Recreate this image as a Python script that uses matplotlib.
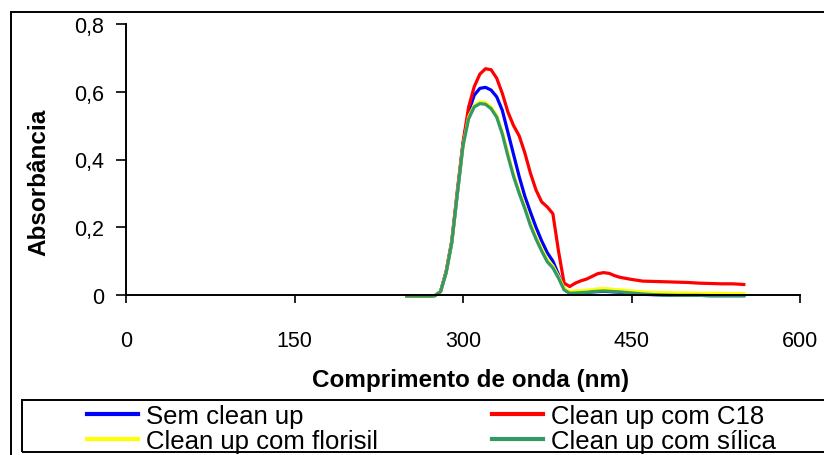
import matplotlib

matplotlib.use("Agg")
import matplotlib.pyplot as plt
from matplotlib.patches import Rectangle
from matplotlib.ticker import FuncFormatter

plt.rcParams["font.family"] = ["Liberation Sans", "DejaVu Sans"]

# wavelength grid (nm) and absorbance
wavelength = [250, 260, 270, 275, 280, 285, 290, 295, 300, 305, 310, 315, 320, 325,
              330, 335, 340, 345, 350, 355, 360, 365, 370, 375, 380, 385, 390, 395,
              400, 405, 410, 415, 420, 425, 430, 435, 440, 450, 460, 470, 480, 490,
              500, 510, 520, 530, 540, 550]

sem_clean_up = [-0.003, -0.003, -0.003, -0.002, 0.010, 0.068, 0.155, 0.300, 0.445, 0.540,
                0.590, 0.610, 0.613, 0.605, 0.585, 0.545, 0.480, 0.415, 0.350, 0.292,
                0.245, 0.200, 0.160, 0.125, 0.100, 0.060, 0.018, 0.005, 0.005, 0.006,
                0.008, 0.009, 0.010, 0.011, 0.010, 0.009, 0.008, 0.005, 0.002, 0.001,
                0.000, -0.001, -0.001, -0.001, -0.002, -0.002, -0.002, -0.002]

c18 = [-0.003, -0.003, -0.003, -0.002, 0.010, 0.070, 0.160, 0.310, 0.450, 0.555,
       0.615, 0.652, 0.668, 0.665, 0.640, 0.595, 0.540, 0.500, 0.470, 0.420,
       0.360, 0.310, 0.275, 0.260, 0.240, 0.130, 0.035, 0.025, 0.035, 0.042,
       0.047, 0.055, 0.063, 0.066, 0.064, 0.057, 0.052, 0.046, 0.041, 0.040,
       0.039, 0.038, 0.037, 0.035, 0.034, 0.033, 0.033, 0.031]

florisil = [-0.003, -0.003, -0.003, -0.002, 0.010, 0.066, 0.155, 0.300, 0.440, 0.525,
            0.560, 0.570, 0.568, 0.555, 0.530, 0.482, 0.418, 0.357, 0.307, 0.262,
            0.212, 0.172, 0.137, 0.105, 0.086, 0.055, 0.020, 0.010, 0.012, 0.013,
            0.014, 0.016, 0.018, 0.019, 0.018, 0.016, 0.015, 0.012, 0.009, 0.008,
            0.007, 0.006, 0.006, 0.005, 0.005, 0.005, 0.004, 0.004]

silica = [-0.003, -0.003, -0.003, -0.002, 0.010, 0.065, 0.155, 0.300, 0.440, 0.520,
          0.555, 0.565, 0.563, 0.550, 0.525, 0.475, 0.410, 0.350, 0.300, 0.255,
          0.205, 0.165, 0.130, 0.098, 0.080, 0.050, 0.015, 0.005, 0.006, 0.007,
          0.008, 0.010, 0.011, 0.012, 0.011, 0.010, 0.009, 0.006, 0.003, 0.001,
          0.000, -0.001, -0.001, -0.001, -0.002, -0.002, -0.002, -0.002]

labels = ["Sem clean up", "Clean up com C18", "Clean up com florisil", "Clean up com sílica"]
colors = ["#0000FF", "#FF0000", "#FFFF00", "#339966"]
x_ticks = [0, 150, 300, 450, 600]
y_ticks = [0, 0.2, 0.4, 0.6, 0.8]

W, H = 824, 456
fig = plt.figure(figsize=(W / 100, H / 100), dpi=100)
ax = fig.add_axes([126 / W, 1 - 296 / H, (800 - 126) / W, (296 - 25) / H])

lines = []
for series, label, color in zip([sem_clean_up, c18, florisil, silica], labels, colors):
    (ln,) = ax.plot(wavelength, series, color=color, lw=2.3, label=label,
                    clip_on=False, solid_joinstyle="round")
    lines.append(ln)

ax.set_xlim(0, 600)
ax.set_ylim(0, 0.8)
ax.set_xticks(x_ticks)
ax.set_yticks(y_ticks)
ax.yaxis.set_major_formatter(FuncFormatter(lambda v, _: f"{v:g}".replace(".", ",")))
for side in ("top", "right"):
    ax.spines[side].set_visible(False)
for side in ("left", "bottom"):
    ax.spines[side].set_linewidth(1.4)
ax.tick_params(axis="x", direction="out", length=6, width=1.2, pad=19, labelsize=15.5)
ax.tick_params(axis="y", direction="out", length=7, width=1.2, pad=9, labelsize=15.5)

fig.text(471 / W, 1 - 381 / H, "Comprimento de onda (nm)", ha="center", va="center",
         fontsize=17.5, fontweight="bold")
fig.text(39 / W, 1 - 182 / H, "Absorbância", ha="center", va="center",
         rotation=90, fontsize=17.5, fontweight="bold")

# outer chart frame and legend frame (both run past the right edge, as in the source)
fig.patches.append(Rectangle((11 / W, 1 - 470 / H), (845 - 11) / W, (470 - 13) / H,
                             transform=fig.transFigure, fill=False, lw=1.4, ec="black"))
fig.patches.append(Rectangle((22 / W, 1 - 453 / H), (840 - 22) / W, (453 - 401) / H,
                             transform=fig.transFigure, fill=False, lw=1.4, ec="black"))

leg_kw = dict(frameon=False, loc="upper left", fontsize=18.5, handlelength=2.0,
              handletextpad=0.3, borderpad=0, borderaxespad=0, labelspacing=0.05)
fig.legend([lines[0], lines[2]], [labels[0], labels[2]],
           bbox_to_anchor=(87 / W, 1 - 405 / H), **leg_kw)
fig.legend([lines[1], lines[3]], [labels[1], labels[3]],
           bbox_to_anchor=(492 / W, 1 - 405 / H), **leg_kw)
for leg in fig.legends:
    for h in leg.get_lines():
        h.set_linewidth(3)

fig.savefig("out.png", dpi=100)
